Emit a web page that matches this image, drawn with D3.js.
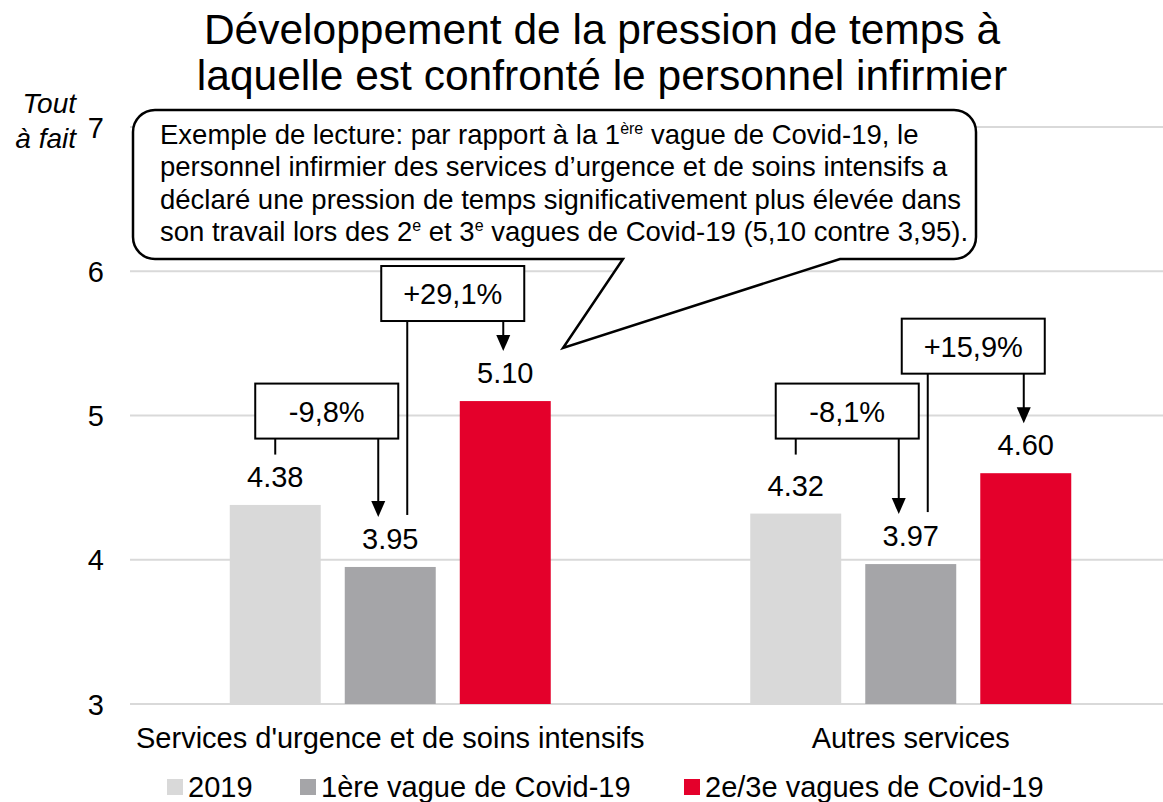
<!DOCTYPE html>
<html>
<head>
<meta charset="utf-8">
<script src="https://cdn.jsdelivr.net/npm/d3@7"></script>
<style>
  body { margin: 0; background: #fff; }
  text { font-family: "Liberation Sans", Arial, sans-serif; fill: #000; }
</style>
</head>
<body>
<svg id="chart" width="1163" height="802"></svg>
<script>
// ---- data ----
const categories = ["Services d'urgence et de soins intensifs", "Autres services"];
const seriesNames = ["2019", "1ère vague de Covid-19", "2e/3e vagues de Covid-19"];
const values2019 = [4.38, 4.32];
const valuesWave1 = [3.95, 3.97];
const valuesWave23 = [5.10, 4.60];
const yTicks = [3, 4, 5, 6, 7];
// change boxes: category index, from series, to series, label, level of box bottom (y units)
const changeLabels = ["-9,8%", "+29,1%", "-8,1%", "+15,9%"];
const changeCat = [0, 0, 1, 1];
const changeFrom = [0, 1, 0, 1];
const changeTo = [1, 2, 1, 2];
const changeLevel = [4.84, 5.655, 4.84, 5.29];

const colors = ["#d9d9d9", "#a5a5a8", "#e4002b"];
const allValues = [values2019, valuesWave1, valuesWave23];

const svg = d3.select("#chart");

// ---- scales ----
const y = d3.scaleLinear().domain([3, 7]).range([704, 127]);
const x0 = d3.scaleBand().domain(categories).range([130, 1171]);
const x1 = d3.scaleBand().domain(seriesNames)
    .range([x0.bandwidth() / 2 - 160.5, x0.bandwidth() / 2 + 160.5])
    .paddingInner(0.209);

const barCenter = (ci, si) => x0(categories[ci]) + x1(seriesNames[si]) + x1.bandwidth() / 2;

// ---- title ----
const title = svg.append("text")
    .attr("text-anchor", "middle")
    .style("font-size", "42.5px");
title.append("tspan").attr("x", 602).attr("y", 44).text("Développement de la pression de temps à");
title.append("tspan").attr("x", 602).attr("y", 90).text("laquelle est confronté le personnel infirmier");

// ---- gridlines + y axis ----
svg.append("g").selectAll("line")
    .data(yTicks)
    .join("line")
    .attr("x1", 130).attr("x2", 1163)
    .attr("y1", d => y(d)).attr("y2", d => y(d))
    .attr("stroke", "#d9d9d9").attr("stroke-width", 2);

const yAxis = d3.axisLeft(y).tickValues(yTicks).tickSize(0).tickPadding(0).tickFormat(d3.format("d"));
svg.append("g")
    .attr("transform", "translate(104,0)")
    .call(yAxis)
    .call(g => g.select(".domain").remove())
    .selectAll("text")
    .style("font-size", "29px")
    .attr("dy", "0.35em");

svg.append("text").attr("x", 76).attr("y", 113).attr("text-anchor", "end")
    .style("font-size", "28px").style("font-style", "italic").text("Tout");
svg.append("text").attr("x", 76).attr("y", 148).attr("text-anchor", "end")
    .style("font-size", "28px").style("font-style", "italic").text("à fait");

// ---- bars ----
const groups = svg.append("g").selectAll("g")
    .data(categories)
    .join("g")
    .attr("transform", d => "translate(" + x0(d) + ",0)");

groups.selectAll("rect")
    .data((d, ci) => seriesNames.map((s, si) => ({ s: s, si: si, v: allValues[si][ci] })))
    .join("rect")
    .attr("x", d => x1(d.s))
    .attr("width", x1.bandwidth())
    .attr("y", d => y(d.v))
    .attr("height", d => y(3) - y(d.v))
    .attr("fill", d => colors[d.si]);

groups.selectAll("text.val")
    .data((d, ci) => seriesNames.map((s, si) => ({ s: s, v: allValues[si][ci] })))
    .join("text")
    .attr("class", "val")
    .attr("x", d => x1(d.s) + x1.bandwidth() / 2)
    .attr("y", d => y(d.v) - 18)
    .attr("text-anchor", "middle")
    .style("font-size", "29px")
    .text(d => d.v.toFixed(2));

// ---- category labels ----
svg.append("g").selectAll("text")
    .data(categories)
    .join("text")
    .attr("x", d => x0(d) + x0.bandwidth() / 2)
    .attr("y", 748)
    .attr("text-anchor", "middle")
    .style("font-size", "29px")
    .text(d => d);

// ---- change annotations ----
const ann = svg.append("g");
function arrowDown(g, x, yTop, yTip) {
    g.append("line").attr("x1", x).attr("x2", x).attr("y1", yTop).attr("y2", yTip - 14)
        .attr("stroke", "#000").attr("stroke-width", 2);
    g.append("path")
        .attr("d", "M" + (x - 7) + "," + (yTip - 16) + "L" + (x + 7) + "," + (yTip - 16) + "L" + x + "," + yTip + "Z")
        .attr("fill", "#000");
}
changeLabels.forEach((lab, i) => {
    const ci = changeCat[i];
    const fromX = barCenter(ci, changeFrom[i]);
    const toX = barCenter(ci, changeTo[i]);
    const fromV = allValues[changeFrom[i]][ci];
    const toV = allValues[changeTo[i]][ci];
    const bottom = y(changeLevel[i]);
    const down = lab.startsWith("-");
    const left = down ? fromX - 20 : fromX - 9;
    const right = down ? toX + 8 : toX + 19;
    const g = ann.append("g");
    if (down) {
        g.append("line").attr("x1", fromX).attr("x2", fromX).attr("y1", bottom).attr("y2", bottom + 16)
            .attr("stroke", "#000").attr("stroke-width", 2);
        arrowDown(g, toX - 12, bottom, y(toV) - 50);
    } else {
        g.append("line").attr("x1", fromX + 17).attr("x2", fromX + 17)
            .attr("y1", bottom).attr("y2", y(fromV) - 52)
            .attr("stroke", "#000").attr("stroke-width", 2);
        arrowDown(g, toX - 2, bottom, y(toV) - 50);
    }
    g.append("rect")
        .attr("x", left).attr("y", bottom - 55)
        .attr("width", right - left).attr("height", 55)
        .attr("fill", "#fff").attr("stroke", "#000").attr("stroke-width", 2);
    g.append("text")
        .attr("x", (left + right) / 2).attr("y", bottom - 17)
        .attr("text-anchor", "middle")
        .style("font-size", "29px")
        .text(lab);
});

// ---- callout ----
const cx0 = 133, cy0 = 110, cx1 = 976, cy1 = 259, r = 22;
const tipX = 563, tipY = 348, baseL = 623, baseR = 840;
const callPath = d3.path();
callPath.moveTo(cx0 + r, cy0);
callPath.lineTo(cx1 - r, cy0);
callPath.arcTo(cx1, cy0, cx1, cy0 + r, r);
callPath.lineTo(cx1, cy1 - r);
callPath.arcTo(cx1, cy1, cx1 - r, cy1, r);
callPath.lineTo(baseR, cy1);
callPath.lineTo(tipX, tipY);
callPath.lineTo(baseL, cy1);
callPath.lineTo(cx0 + r, cy1);
callPath.arcTo(cx0, cy1, cx0, cy1 - r, r);
callPath.lineTo(cx0, cy0 + r);
callPath.arcTo(cx0, cy0, cx0 + r, cy0, r);
callPath.closePath();
svg.append("path").attr("d", callPath.toString())
    .attr("fill", "#fff").attr("stroke", "#000").attr("stroke-width", 2.5)
    .attr("stroke-linejoin", "miter");

const calloutLines = [
    [["Exemple de lecture: par rapport à la 1", false], ["ère", true], [" vague de Covid-19, le", false]],
    [["personnel infirmier des services d’urgence et de soins intensifs a", false]],
    [["déclaré une pression de temps significativement plus élevée dans", false]],
    [["son travail lors des 2", false], ["e", true], [" et 3", false], ["e", true], [" vagues de Covid-19 (5,10 contre 3,95).", false]]
];
calloutLines.forEach((parts, li) => {
    const base = 144 + li * 32.3;
    const t = svg.append("text").attr("x", 160).attr("y", base).style("font-size", "27.5px");
    parts.forEach(p => {
        if (p[1]) {
            t.append("tspan").attr("y", base - 10).style("font-size", "16px").text(p[0]);
        } else {
            t.append("tspan").attr("y", base).text(p[0]);
        }
    });
});

// ---- legend ----
const legendX = [167, 300, 684];
const legend = svg.append("g").selectAll("g")
    .data(seriesNames)
    .join("g")
    .attr("transform", (d, i) => "translate(" + legendX[i] + ",0)");
legend.append("rect").attr("x", 0).attr("y", 779).attr("width", 16).attr("height", 16)
    .attr("fill", (d, i) => colors[i]);
legend.append("text").attr("x", 21).attr("y", 797).style("font-size", "29px").text(d => d);
</script>
</body>
</html>
